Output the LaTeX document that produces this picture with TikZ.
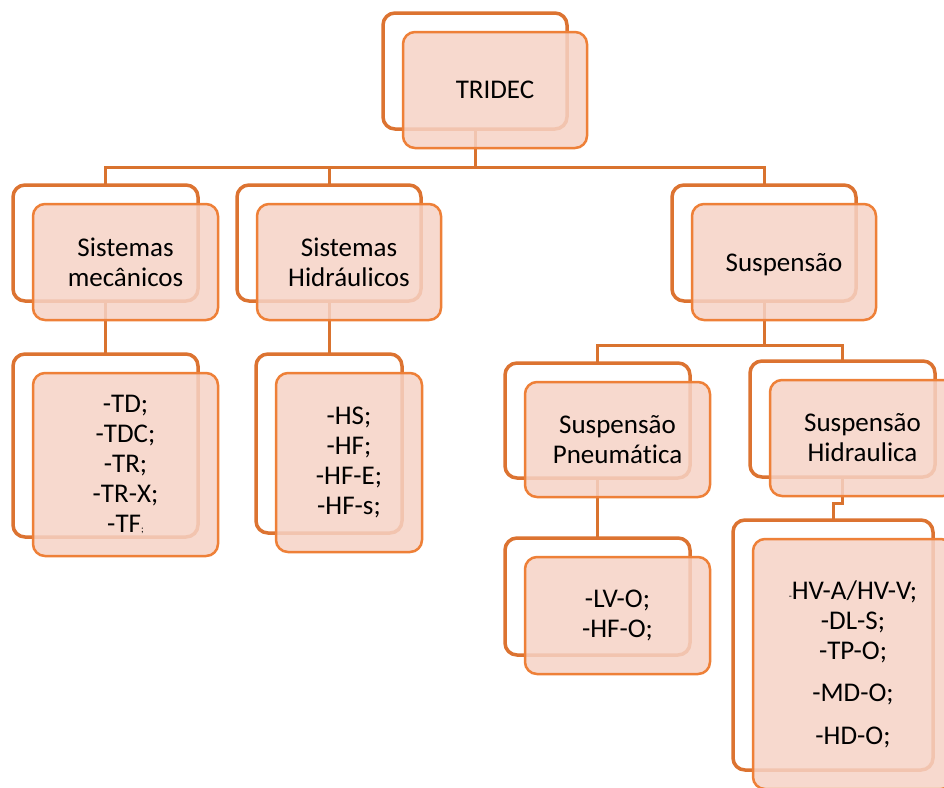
\documentclass[tikz,border=0pt]{standalone}
\usepackage{fontspec}
\setmainfont{Carlito}[Ligatures=CommonOff]
\definecolor{backline}{HTML}{DC7331}
\definecolor{frontline}{HTML}{EE8038}
\definecolor{frontfill}{HTML}{F6D3C6}
\definecolor{connline}{HTML}{D9732F}
\tikzset{
  backbox/.style={draw=backline, fill=white, line width=3.5pt, rounded corners=12pt,
    rectangle, inner sep=0pt},
  frontbox/.style={draw=frontline, fill=frontfill, fill opacity=0.85, text opacity=1,
    line width=2.5pt, rounded corners=12pt, rectangle, inner sep=0pt, align=center,
    font=\fontsize{27}{30}\selectfont},
  conn/.style={draw=connline, line width=3pt},
}
% back frame plus overlapping front card holding the text
\newcommand\cardpair[6]{%
  \node[backbox, minimum width=#4pt, minimum height=#5pt] (#1B) at (#2,#3) {};
  \node[frontbox, minimum width=#4pt, minimum height=#5pt] (#1) at ($(#2,#3)+(20,19)$) {#6};
}
\usetikzlibrary{calc}
\begin{document}
\begin{tikzpicture}[x=1pt, y=-1pt]
\useasboundingbox (0,0) rectangle (944,787);
\clip (0,0) rectangle (944,787);
\fill[white] (0,0) rectangle (944,787);

% junction points of the tree connectors
\coordinate (j1) at (475,167);
\coordinate (j2) at (764,345);

% connectors are drawn first so that the cards cover them
\draw[conn] (475,129) -- (j1);
\draw[conn] (105.5,185) |- (j1) -| (764,185);
\draw[conn] (j1) -| (329,185);
\draw[conn] (105.5,301) -- (105.5,354);
\draw[conn] (329,301) -- (329,354);
\draw[conn] (764,301) -- (j2);
\draw[conn] (597.5,363) |- (j2) -| (842.5,361);
\draw[conn] (597.5,478) -- (597.5,538);
\draw[conn] (842.5,477) -- (842.5,503) -| (833,520);

\cardpair{tridec}{475}{71}{184}{116}{TRIDEC}
\cardpair{sist}{105.5}{243}{185}{116}{Sistemas\\mecânicos}
\cardpair{hidr}{329}{243}{184}{116}{Sistemas\\Hidráulicos}
\cardpair{susp}{764}{243}{184}{116}{\raisebox{-3pt}[\height][\depth]{Suspensão}}
\cardpair{sistlist}{105.5}{445.5}{185}{183}{-TD;\\-TDC;\\-TR;\\-TR-X;\\-TF{\fontsize{10}{10}\selectfont;}}
\cardpair{hidrlist}{329}{443.5}{146}{179}{-HS;\\-HF;\\-HF-E;\\-HF-s;}
\cardpair{pneu}{597.5}{420.5}{185}{115}{Suspensão\\Pneumática}
\cardpair{hsusp}{842.5}{419}{185}{116}{Suspensão\\Hidraulica}
\cardpair{pneulist}{597.5}{596.5}{185}{117}{-LV-O;\\-HF-O;}
\cardpair{hsusplist}{833}{645}{200}{250}{{\fontsize{10}{10}\selectfont-}HV-A/HV-V;\\-DL-S;\\-TP-O;\\[12pt]-MD-O;\\[13pt]-HD-O;}
\end{tikzpicture}
\end{document}
